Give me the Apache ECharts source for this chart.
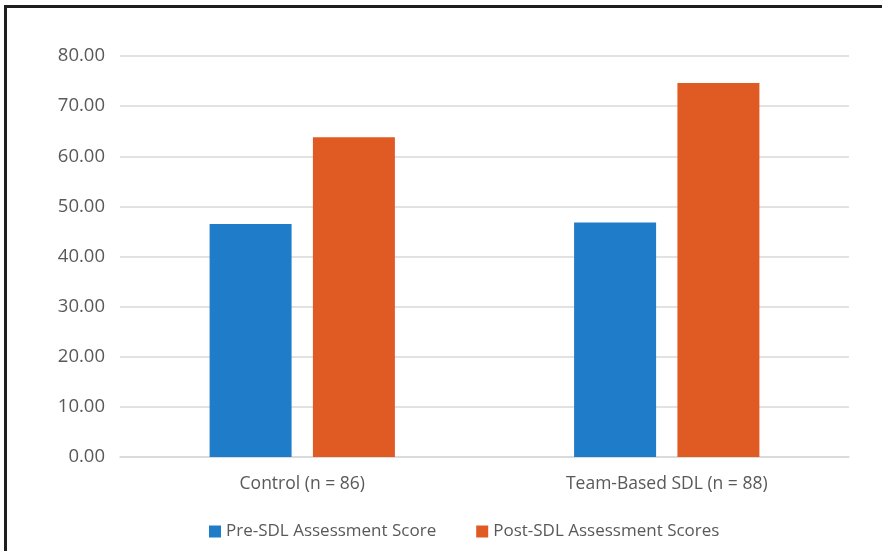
<!DOCTYPE html>
<html>
<head>
<meta charset="utf-8">
<script src="https://cdn.jsdelivr.net/npm/echarts@6/dist/echarts.min.js"></script>
<style>
  html, body { margin: 0; padding: 0; background: #fff; }
  #frame { position: absolute; left: 4px; top: 5px; width: 878px; height: 546px; border-left: 3px solid #1e1e1e; border-top: 3px solid #1e1e1e; box-sizing: border-box; }
  #chart { position: absolute; left: 0; top: 0; width: 882px; height: 551px; }
</style>
</head>
<body>
<div id="frame"></div>
<div id="chart"></div>
<script>
// data
const categories = ['Control (n = 86)', 'Team-Based SDL (n = 88)']
const preScores = [46.5, 46.8]
const postScores = [63.8, 74.6]
const seriesNames = ['Pre-SDL Assessment Score', 'Post-SDL Assessment Scores']

const font = '"Open Sans", sans-serif'
const chart = echarts.init(document.getElementById('chart'))
const option = {
  animation: false,
  legend: {
    left: 204,
    top: 518,
    itemWidth: 12,
    itemHeight: 12,
    itemGap: 40,
    icon: 'rect',
    textStyle: { color: '#595959', fontSize: 17, fontFamily: font }
  },
  grid: {
    left: 120,
    right: 33,
    top: 56,
    bottom: 94
  },
  xAxis: {
    type: 'category',
    data: categories,
    axisLine: { lineStyle: { color: '#d9d9d9', width: 1.5 } },
    axisTick: { show: false },
    axisLabel: { color: '#595959', fontSize: 17.5, fontFamily: font, margin: 18 }
  },
  yAxis: {
    type: 'value',
    min: 0,
    max: 80,
    interval: 10,
    axisLine: { show: false },
    axisTick: { show: false },
    splitLine: { lineStyle: { color: '#d9d9d9', width: 1.5 } },
    axisLabel: {
      color: '#595959',
      fontSize: 18.5,
      fontFamily: font,
      margin: 15,
      formatter: (v) => v.toFixed(2)
    }
  },
  series: [
    {
      name: seriesNames[0],
      type: 'bar',
      barWidth: 82,
      barGap: '26%',
      itemStyle: { color: '#1f7cc8' },
      data: preScores
    },
    {
      name: seriesNames[1],
      type: 'bar',
      barWidth: 82,
      barGap: '26%',
      itemStyle: { color: '#e05b24' },
      data: postScores
    }
  ]
}
chart.setOption(option)
</script>
</body>
</html>
